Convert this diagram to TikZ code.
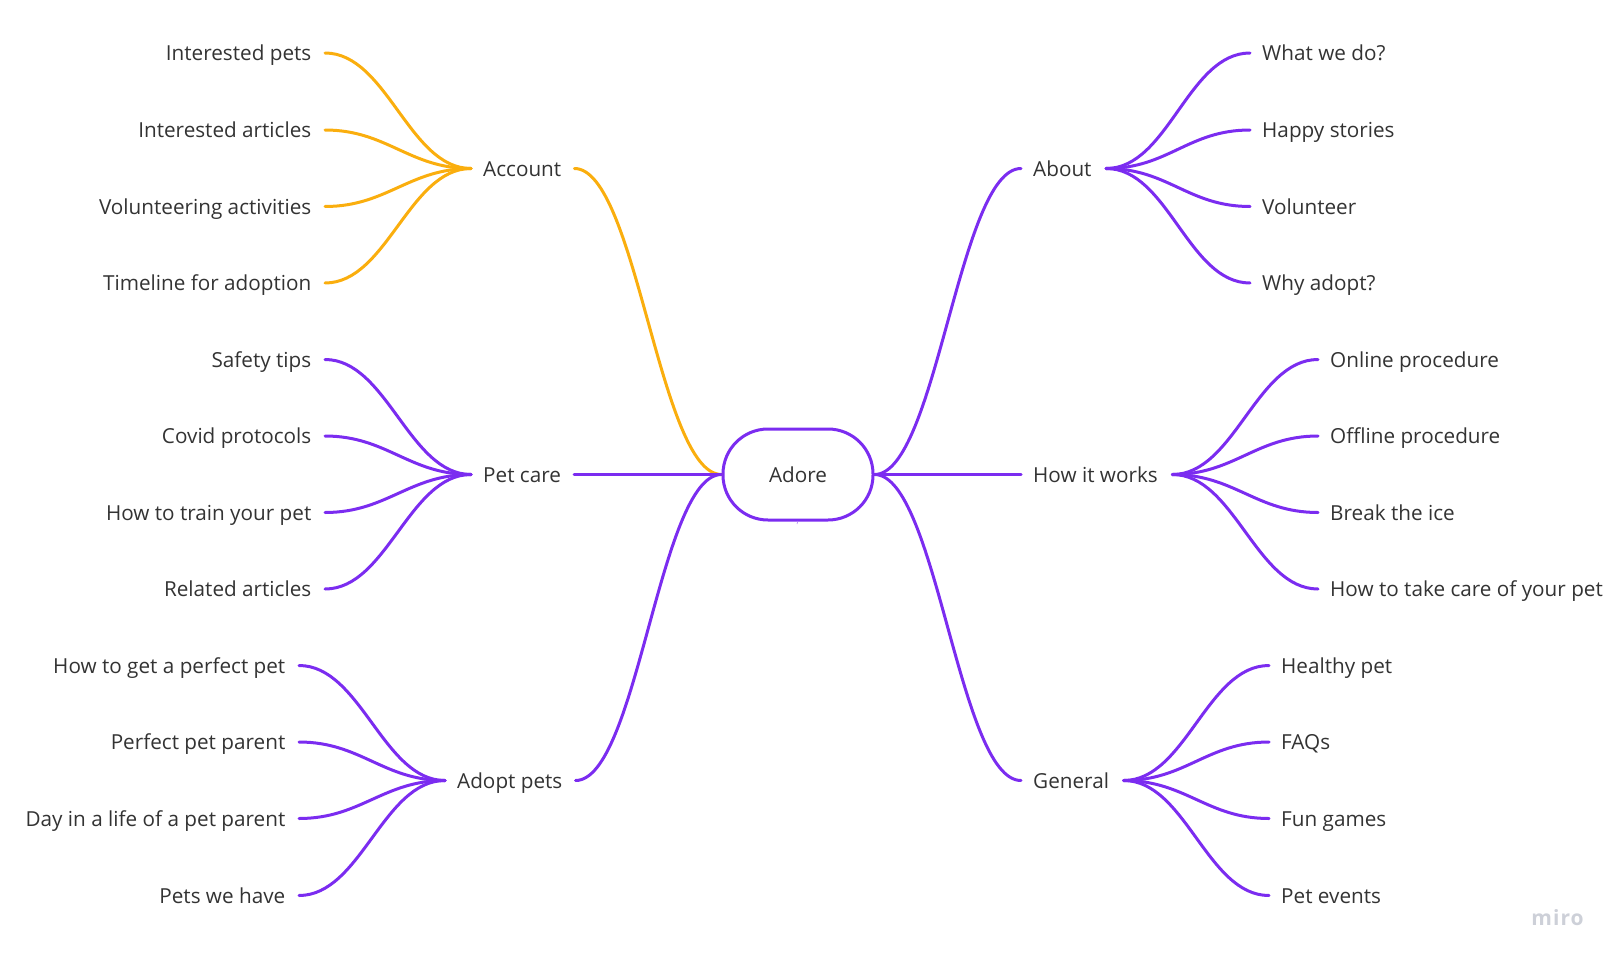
\documentclass[tikz,border=0pt]{standalone}
\usepackage{fontspec}
\setmainfont{Open Sans}
\definecolor{vio}{HTML}{7B2CF0}
\definecolor{amb}{HTML}{FAAE0E}
\definecolor{ink}{HTML}{333333}
\definecolor{wm}{HTML}{CDD0D8}
\tikzset{
  x=1pt,y=-1pt,
  lbl/.style={font=\fontsize{20.7}{25}\selectfont,text=ink,inner xsep=12pt,inner ysep=2pt,text height=17.5pt,text depth=2.5pt},
  lf/.style={lbl,anchor=east,inner xsep=13.5pt},
  rt/.style={lbl,anchor=west},
  wire/.style={line width=3pt,line cap=round},
  vw/.style={wire,vio},
  aw/.style={wire,amb},
  leaf/.style={out distance=62pt,in distance=62pt},
  trunk/.style={out distance=62pt,in distance=62pt},
}
\begin{document}
\begin{tikzpicture}
\useasboundingbox (0,0) rectangle (1621,963);
% centre
\node[draw=vio,line width=3pt,rounded corners=45pt,minimum width=150pt,minimum height=91pt,inner sep=0pt,font=\fontsize{20.7}{25}\selectfont,text=ink] (adore) at (798,474.5) {Adore};
% left hubs
\node[rt] (account) at (471,168.5) {Account};
\node[rt] (petcare) at (471,474.5) {Pet care};
\node[rt] (adopt) at (445,780.5) {Adopt pets};
% right hubs
\node[rt] (about) at (1021,168.5) {About};
\node[rt] (how) at (1021,474.5) {How it works};
\node[rt] (general) at (1021,780.5) {General};
% left leaves
\node[lf] (a1) at (325,53) {Interested pets};
\node[lf] (a2) at (325,130) {Interested articles};
\node[lf] (a3) at (325,206.5) {Volunteering activities};
\node[lf] (a4) at (325,283) {Timeline for adoption};
\node[lf] (p1) at (325,359.5) {Safety tips};
\node[lf] (p2) at (325,436) {Covid protocols};
\node[lf] (p3) at (325,512.5) {How to train your pet};
\node[lf] (p4) at (325,589) {Related articles};
\node[lf] (d1) at (299,665.5) {How to get a perfect pet};
\node[lf] (d2) at (299,742) {Perfect pet parent};
\node[lf] (d3) at (299,818.5) {Day in a life of a pet parent};
\node[lf] (d4) at (299,895.5) {Pets we have};
% right leaves
\node[rt] (b1) at (1250,53) {What we do?};
\node[rt] (b2) at (1250,130) {Happy stories};
\node[rt] (b3) at (1250,206.5) {Volunteer};
\node[rt] (b4) at (1250,283) {Why adopt?};
\node[rt] (h1) at (1318,359.5) {Online procedure};
\node[rt] (h2) at (1318,436) {Offline procedure};
\node[rt] (h3) at (1318,512.5) {Break the ice};
\node[rt] (h4) at (1318,589) {How to take care of your pet};
\node[rt] (g1) at (1269,665.5) {Healthy pet};
\node[rt] (g2) at (1269,742) {FAQs};
\node[rt] (g3) at (1269,818.5) {Fun games};
\node[rt] (g4) at (1269,895.5) {Pet events};
% trunks
\draw[aw] (adore.west) to[out=180,in=0,trunk] ([xshift=1pt]account.east);
\draw[vw] (adore.west) -- ([xshift=1pt]petcare.east);
\draw[vw] (adore.west) to[out=180,in=0,trunk] ([xshift=1pt]adopt.east);
\draw[vw] (adore.east) to[out=0,in=180,trunk] (about.west);
\draw[vw] (adore.east) -- (how.west);
\draw[vw] (adore.east) to[out=0,in=180,trunk] (general.west);
% branches
\foreach \n in {a1,a2,a3,a4} \draw[aw] (account.west) to[out=180,in=0,leaf] (\n.east);
\foreach \n in {p1,p2,p3,p4} \draw[vw] (petcare.west) to[out=180,in=0,leaf] (\n.east);
\foreach \n in {d1,d2,d3,d4} \draw[vw] (adopt.west) to[out=180,in=0,leaf] (\n.east);
\foreach \n in {b1,b2,b3,b4} \draw[vw] ([xshift=2.5pt]about.east) to[out=0,in=180,leaf] (\n.west);
\foreach \n in {h1,h2,h3,h4} \draw[vw] ([xshift=2.5pt]how.east) to[out=0,in=180,leaf] (\n.west);
\foreach \n in {g1,g2,g3,g4} \draw[vw] ([xshift=2.5pt]general.east) to[out=0,in=180,leaf] (\n.west);
% watermark
\node[font=\fontsize{21}{26}\selectfont\addfontfeatures{LetterSpace=5},text=wm,anchor=east,inner sep=0pt] (miro) at (1585,918) {\textbf{miro}};
% stray mark under the centre node
\coordinate (tickA) at (798,521);
\coordinate (tickB) at (797,524);
\draw[vio!60,line width=0.6pt] (tickA) -- (tickB);
\end{tikzpicture}
\end{document}
